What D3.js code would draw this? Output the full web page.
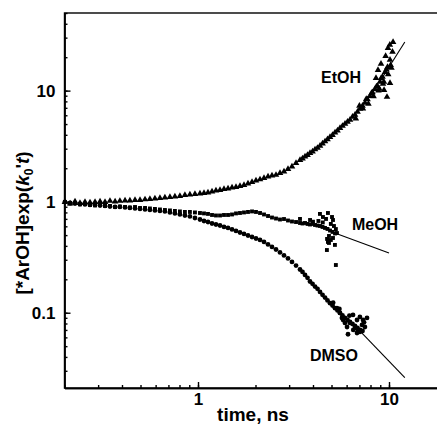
<!DOCTYPE html>
<html>
<head>
<meta charset="utf-8">
<script src="https://cdn.jsdelivr.net/npm/d3@7"></script>
<style>
    body { margin: 0; background: #fff; }
    svg { display: block; }
    text { font-family: "Liberation Sans", Arial, sans-serif; font-weight: bold; fill: #000; }
</style>
</head>
<body>
<div id="chart"></div>
<script>
// values: [time in ns, [*ArOH]exp(k0't)]
const etoh = [
    [0.201,0.994],[0.214,0.963],[0.227,1.004],[0.241,0.973],[0.256,0.994],[0.272,0.984],[0.289,0.994],
    [0.307,1.004],[0.326,0.994],[0.346,1.015],[0.368,1.004],[0.390,1.015],[0.415,1.025],[0.440,1.025],
    [0.468,1.036],[0.497,1.036],[0.528,1.047],[0.560,1.057],[0.595,1.068],[0.632,1.080],[0.671,1.091],
    [0.713,1.102],[0.757,1.114],[0.804,1.125],[0.854,1.149],[0.907,1.161],[0.964,1.173],
    [1.024,1.185],[1.075,1.197],[1.128,1.210],[1.184,1.235],[1.242,1.261],[1.304,1.274],[1.368,1.301],
    [1.436,1.315],[1.507,1.342],[1.581,1.356],[1.659,1.385],[1.741,1.414],[1.827,1.458],[1.918,1.504],
    [2.012,1.552],[2.112,1.585],[2.216,1.635],[2.326,1.686],[2.440,1.722],[2.561,1.740],[2.687,1.813],
    [2.820,1.869],[2.959,1.970],[3.105,2.075],[3.260,2.229],[3.420,2.373],
    [3.525,2.448],[3.633,2.552],[3.744,2.632],[3.858,2.745],[3.977,2.832],[4.099,2.953],[4.224,3.046],
    [4.353,3.176],[4.487,3.343],[4.624,3.486],[4.764,3.635],[4.911,3.822],[5.061,3.985],[5.216,4.197],
    [5.375,4.376],[5.540,4.608],[5.709,4.807],[5.884,5.012],[6.064,5.226],[6.249,5.449],[6.440,5.800],
    [6.637,6.046],[6.840,6.435],[7.049,6.850],[7.265,7.290],[7.487,7.760],[7.716,8.36],[7.951,8.95],
    [8.195,9.64],[8.445,10.3],[8.703,11.0],[8.969,12.0],[9.247,13.3],[9.530,14.7],[9.820,16.3],
    [10.12,18.9],[10.43,22.3],
    [6.7,5.6],[7.0,7.3],[7.3,6.9],[7.6,8.4],[7.8,7.6],[8.1,9.5],[8.3,8.9],[8.6,10.9],[8.8,10.0],
    [9.1,13.0],[9.4,12.0],[9.7,15.5],[9.9,14.0],[10.2,17.0],
    [9.76,8.77],[10.12,11.7],[10.5,27.4],[9.88,24.2],[9.08,17.4],[8.76,15.3],[8.55,13.0],[9.42,10.1],
    [10.1,25.8],[9.6,20.5],[9.3,11.5],[8.9,10.4],[10.3,16.0]
];

const meoh = [
    [0.201,0.994],[0.214,0.963],[0.227,0.973],[0.241,0.944],[0.256,0.953],[0.272,0.934],[0.289,0.924],
    [0.307,0.934],[0.326,0.915],[0.346,0.915],[0.368,0.896],[0.390,0.905],[0.415,0.896],[0.440,0.887],
    [0.468,0.896],[0.497,0.878],[0.528,0.878],[0.560,0.869],[0.595,0.860],[0.632,0.851],[0.671,0.842],
    [0.713,0.834],[0.757,0.825],[0.804,0.817],[0.854,0.808],[0.907,0.808],[0.964,0.800],
    [1.024,0.791],[1.075,0.784],[1.128,0.776],[1.184,0.759],[1.242,0.751],[1.304,0.751],[1.368,0.759],
    [1.436,0.759],[1.507,0.767],[1.581,0.784],[1.659,0.791],[1.741,0.800],[1.827,0.808],[1.918,0.817],
    [2.012,0.808],[2.112,0.791],[2.216,0.767],[2.326,0.743],[2.440,0.720],[2.561,0.705],[2.687,0.691],
    [2.820,0.698],[2.959,0.677],[3.105,0.663],[3.260,0.656],[3.420,0.643],
    [3.525,0.636],[3.633,0.643],[3.744,0.630],[3.858,0.623],[3.977,0.630],[4.099,0.617],[4.224,0.610],
    [4.353,0.604],[4.487,0.592],[4.624,0.580],[4.764,0.568],[4.911,0.550],[5.061,0.534],[5.216,0.517],
    [3.42,0.699],[3.86,0.684],[4.27,0.670],[4.35,0.776],[4.51,0.728],[4.68,0.699],[4.79,0.791],
    [5.03,0.728],[5.09,0.684],[4.96,0.630],[5.15,0.604],[4.85,0.491],[4.96,0.452],[4.79,0.434],
    [5.21,0.408],[5.09,0.471],[4.73,0.367],[5.27,0.269],[5.34,0.522],[5.27,0.567],[4.74,0.462],
    [4.85,0.425],[4.0,0.660],[4.5,0.650]
];

const dmso = [
    [0.201,0.994],[0.214,0.973],[0.227,0.963],[0.241,0.953],[0.256,0.944],[0.272,0.934],[0.289,0.934],
    [0.307,0.924],[0.326,0.915],[0.346,0.905],[0.368,0.896],[0.390,0.896],[0.415,0.887],[0.440,0.878],
    [0.468,0.869],[0.497,0.860],[0.528,0.851],[0.560,0.842],[0.595,0.834],[0.632,0.825],[0.671,0.817],
    [0.713,0.800],[0.757,0.783],[0.804,0.767],[0.854,0.751],[0.907,0.736],[0.964,0.713],
    [1.024,0.691],[1.075,0.670],[1.128,0.656],[1.184,0.636],[1.242,0.623],[1.304,0.610],[1.368,0.592],
    [1.436,0.580],[1.507,0.562],[1.581,0.545],[1.659,0.528],[1.741,0.512],[1.827,0.496],[1.918,0.481],
    [2.012,0.466],[2.112,0.452],[2.216,0.434],[2.326,0.412],[2.440,0.391],[2.561,0.371],[2.687,0.349],
    [2.820,0.328],[2.959,0.308],[3.105,0.287],[3.260,0.266],[3.420,0.245],
    [3.525,0.233],[3.633,0.219],[3.744,0.206],[3.858,0.191],[3.977,0.182],[4.099,0.172],[4.224,0.164],
    [4.353,0.154],[4.487,0.145],[4.624,0.137],[4.764,0.129],[4.911,0.122],[5.061,0.116],[5.216,0.110],
    [5.375,0.105],[5.540,0.0995],[5.709,0.0945],[5.884,0.0897],[6.064,0.0860],[6.249,0.0826],
    [6.440,0.0792],[6.637,0.0760],[6.840,0.0729],[7.049,0.0700],[7.265,0.0685],
    [5.34,0.110],[5.53,0.0995],[5.75,0.0860],[6.03,0.0744],[6.10,0.0640],[6.48,0.0955],[6.80,0.0860],
    [7.04,0.0916],[7.31,0.0860],[7.48,0.0744],[6.88,0.0700],[6.64,0.0729],[6.24,0.0809],[7.22,0.0776],
    [5.88,0.0809],[5.67,0.0897],[7.67,0.0897],[6.80,0.0657],[7.04,0.0672],[5.1,0.123],[5.5,0.108],
    [6.2,0.094],[7.4,0.082],[6.5,0.070]
];

// fitted lines
const etohFit = [[9.0, 12.2], [12.1, 27.4]];
const meohFit = [[5.2, 0.522], [10.0, 0.345]];
const dmsoFit = [[7.2, 0.066], [12.1, 0.026]];

const curveNames = ["EtOH", "MeOH", "DMSO"];
const xTickValues = [1, 10];
const yTickValues = [0.1, 1, 10];

class DecayPlot {
    constructor(parentElement) {
        this.parentElement = parentElement;
        this.initVis();
    }

    initVis() {
        let vis = this;

        vis.width = 437;
        vis.height = 424;

        vis.svg = d3.select("#" + vis.parentElement)
            .append("svg")
            .attr("width", vis.width)
            .attr("height", vis.height);

        // log scales, the frame runs past the right edge of the picture
        vis.x = d3.scaleLog().domain([0.2, 20]).range([64.5, 446.5]);
        vis.y = d3.scaleLog().domain([0.021, 50]).range([388, 13]);

        vis.drawAxes();
        vis.drawData();
        vis.drawLabels();
    }

    drawAxes() {
        let vis = this;
        let bottom = vis.y.range()[0];
        let left = vis.x.range()[0];

        // frame
        vis.svg.append("rect")
            .attr("x", left)
            .attr("y", vis.y.range()[1])
            .attr("width", vis.x.range()[1] - left)
            .attr("height", bottom - vis.y.range()[1])
            .attr("fill", "none")
            .attr("stroke", "#000")
            .attr("stroke-width", 1.4);

        // minor ticks
        vis.svg.append("g")
            .attr("class", "axis")
            .attr("transform", `translate(${left},0)`)
            .call(d3.axisLeft(vis.y).tickValues(vis.y.ticks()).tickSize(-3).tickSizeOuter(0).tickFormat(""));
        vis.svg.append("g")
            .attr("class", "axis")
            .attr("transform", `translate(0,${bottom})`)
            .call(d3.axisBottom(vis.x).tickValues(vis.x.ticks()).tickSize(-3).tickSizeOuter(0).tickFormat(""));

        // major ticks with labels
        vis.svg.append("g")
            .attr("class", "axis")
            .attr("transform", `translate(${left},0)`)
            .call(d3.axisLeft(vis.y).tickValues(yTickValues).tickSize(-6).tickSizeOuter(0)
                .tickPadding(9).tickFormat(d3.format("~g")));
        vis.svg.append("g")
            .attr("class", "axis")
            .attr("transform", `translate(0,${bottom})`)
            .call(d3.axisBottom(vis.x).tickValues(xTickValues).tickSize(-6).tickSizeOuter(0)
                .tickPadding(5).tickFormat(d3.format("~g")));

        vis.svg.selectAll(".axis path, .axis line")
            .attr("stroke", "#000")
            .attr("stroke-width", 1.4);
        vis.svg.selectAll(".axis text")
            .attr("font-size", 17)
            .attr("font-family", null);
    }

    drawData() {
        let vis = this;
        let pos = d => `translate(${vis.x(d[0])},${vis.y(d[1])})`;

        vis.svg.append("g").selectAll("path")
            .data(etoh)
            .enter()
            .append("path")
            .attr("d", d3.symbol(d3.symbolTriangle, 19))
            .attr("transform", pos)
            .attr("fill", "#000");

        vis.svg.append("g").selectAll("path")
            .data(meoh)
            .enter()
            .append("path")
            .attr("d", d3.symbol(d3.symbolSquare, 15))
            .attr("transform", pos)
            .attr("fill", "#000");

        vis.svg.append("g").selectAll("circle")
            .data(dmso)
            .enter()
            .append("circle")
            .attr("cx", d => vis.x(d[0]))
            .attr("cy", d => vis.y(d[1]))
            .attr("r", 2.4)
            .attr("fill", "#000");

        let line = d3.line()
            .x(d => vis.x(d[0]))
            .y(d => vis.y(d[1]));

        [etohFit, meohFit, dmsoFit].forEach(fit => {
            vis.svg.append("path")
                .attr("d", line(fit))
                .attr("fill", "none")
                .attr("stroke", "#000")
                .attr("stroke-width", 1.1);
        });
    }

    drawLabels() {
        let vis = this;

        // curve names, anchored in data units
        let anchors = [[5.61, 11.7], [8.45, 0.556], [5.15, 0.0368]];
        curveNames.forEach((name, i) => {
            vis.svg.append("text")
                .attr("x", vis.x(anchors[i][0]))
                .attr("y", vis.y(anchors[i][1]))
                .attr("text-anchor", "middle")
                .attr("font-size", 16)
                .text(name);
        });

        // x axis title
        vis.svg.append("text")
            .attr("x", 253)
            .attr("y", 421)
            .attr("text-anchor", "middle")
            .attr("font-size", 19)
            .text("time, ns");

        // y axis title
        let yTitle = vis.svg.append("text")
            .attr("transform", "translate(29,223) rotate(-90)")
            .attr("text-anchor", "middle")
            .attr("font-size", 18)
            .attr("font-size", 19);
        yTitle.append("tspan").text("[*ArOH]exp(");
        yTitle.append("tspan").attr("font-style", "italic").text("k");
        yTitle.append("tspan").attr("font-size", 12).attr("dy", 4).text("0");
        yTitle.append("tspan").attr("dy", -4).text("'");
        yTitle.append("tspan").attr("font-style", "italic").text("t");
        yTitle.append("tspan").text(")");
    }
}

new DecayPlot("chart");
</script>
</body>
</html>
